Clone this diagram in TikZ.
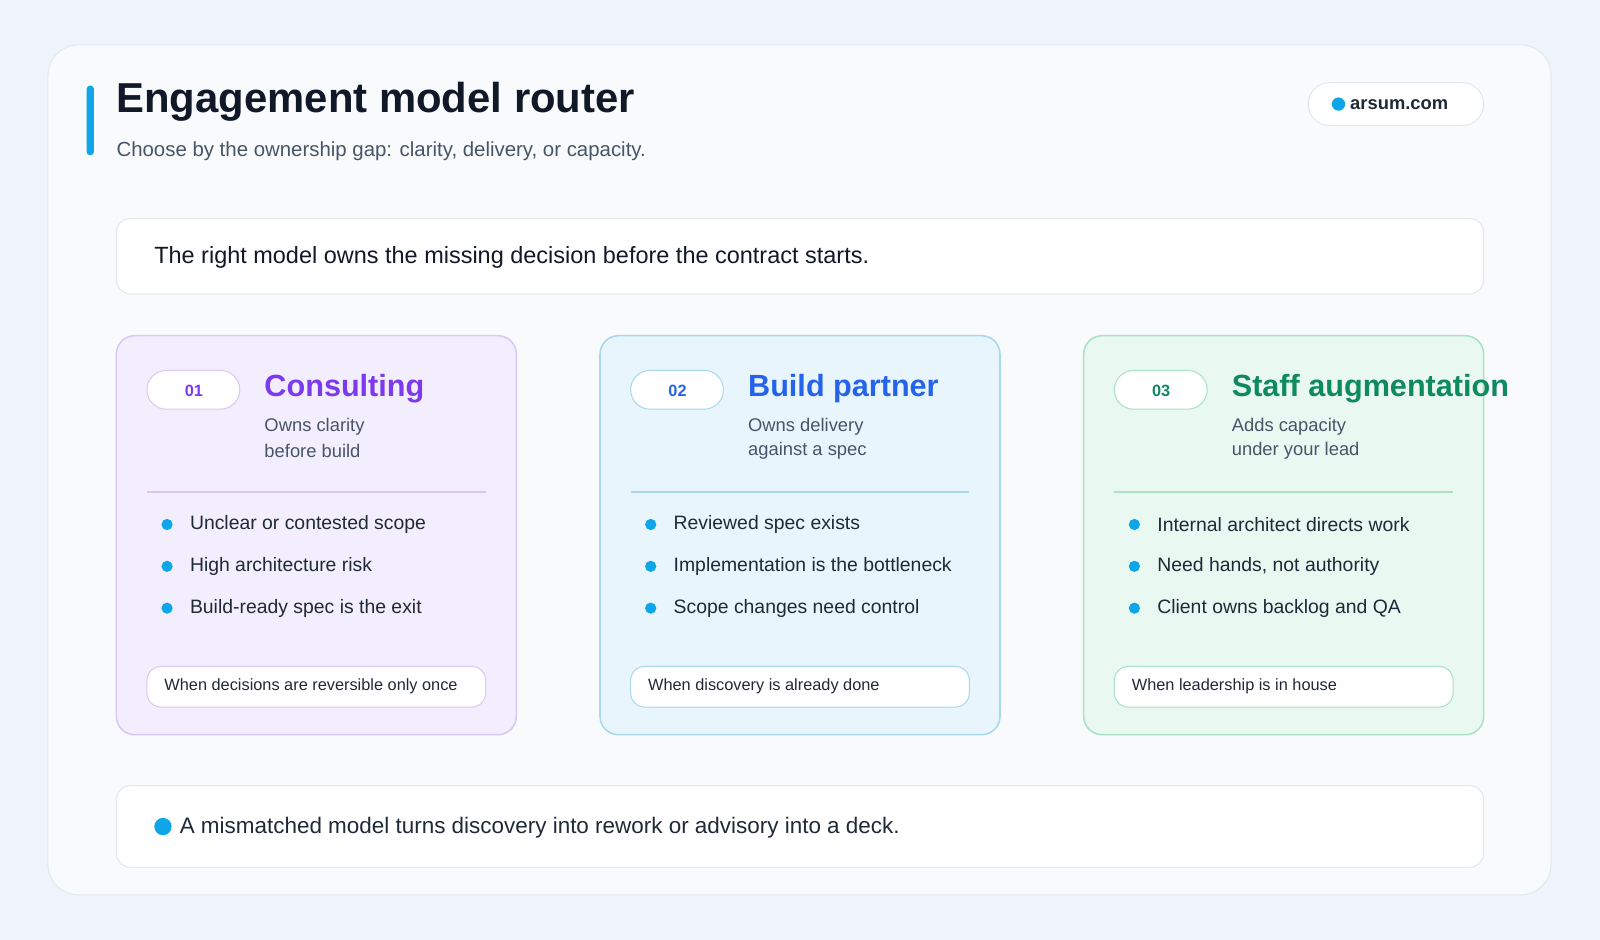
\documentclass[tikz,border=0pt]{standalone}
\usepackage{fontspec}
\setmainfont{Liberation Sans}
\definecolor{pageBg}{HTML}{EEF4FA}
\definecolor{panelBg}{HTML}{F8FAFC}
\definecolor{lineGray}{HTML}{E2E8F0}
\definecolor{accent}{HTML}{0EA5E9}
\definecolor{ink}{HTML}{111827}
\definecolor{softInk}{HTML}{475569}
\definecolor{bodyInk}{HTML}{1F2937}
\definecolor{violetFill}{HTML}{F3EEFD}
\definecolor{violetLine}{HTML}{D9C9F2}
\definecolor{violetText}{HTML}{7C3AED}
\definecolor{blueFill}{HTML}{E9F5FC}
\definecolor{blueLine}{HTML}{A9D8EA}
\definecolor{blueText}{HTML}{2563EB}
\definecolor{greenFill}{HTML}{E9F8F0}
\definecolor{greenLine}{HTML}{A9E2C4}
\definecolor{greenText}{HTML}{0F8A5F}

\begin{document}
\begin{tikzpicture}[x=1pt,y=-1pt,
    every node/.style={inner sep=0pt, anchor=west},
    box/.style={draw=lineGray, fill=white, line width=1pt, rounded corners=14pt},
    dot/.style={circle, fill=accent, minimum size=11pt},
    body/.style={font=\fontsize{19}{22}\selectfont, text=bodyInk},
]
% page and panel
\fill[pageBg] (0,0) rectangle (1568,921);
\draw[lineGray, fill=panelBg, line width=1pt, rounded corners=30pt] (47,44) rectangle (1520,877);

% heading
\fill[accent, rounded corners=3pt] (85,84) rectangle (92,152);
\node[font=\fontsize{41}{46}\selectfont\bfseries, text=ink] (title) at (114,100) {Engagement model router};
\node[font=\fontsize{20}{24}\selectfont, text=softInk] (subtitle) at (114,148) {Choose by the ownership gap: clarity, delivery, or capacity.};

% site pill
\draw[box, rounded corners=21pt] (1282,81) rectangle (1454,123);
\node[dot, minimum size=13pt] (siteDot) at (1305,102) {};
\node[font=\fontsize{18}{22}\selectfont\bfseries, text=bodyInk] (site) at (1323,103) {arsum.com};

% top banner
\draw[box] (114,214) rectangle (1454,288);
\node[font=\fontsize{23}{28}\selectfont, text=ink] (banner) at (151,252) {The right model owns the missing decision before the contract starts.};

% cards
\foreach \x/\n/\fil/\lin/\col/\name/\subA/\subB/\bA/\bB/\bC/\foot in {
  114/01/violetFill/violetLine/violetText/Consulting/Owns clarity/before build/Unclear or contested scope/High architecture risk/Build-ready spec is the exit/When decisions are reversible only once,
  588/02/blueFill/blueLine/blueText/Build partner/Owns delivery/against a spec/Reviewed spec exists/Implementation is the bottleneck/Scope changes need control/When discovery is already done,
  1062/03/greenFill/greenLine/greenText/Staff augmentation/Adds capacity/under your lead/Internal architect directs work/{Need hands, not authority}/Client owns backlog and QA/When leadership is in house} {
    \draw[\lin, fill=\fil, line width=1.5pt, rounded corners=18pt] (\x,329) rectangle ++(392,391);
    \draw[\lin, fill=white, line width=1pt, rounded corners=19pt] (\x+30,363) rectangle ++(91,38);
    \node[anchor=center, font=\fontsize{16}{19}\selectfont\bfseries, text=\col] (badge\n) at (\x+76,383) {\n};
    \node[font=\fontsize{30}{34}\selectfont\bfseries, text=\col] (name\n) at (\x+145,381) {\name};
    \node[font=\fontsize{18}{22}\selectfont, text=softInk] (subA\n) at (\x+145,418) {\subA};
    \node[font=\fontsize{18}{22}\selectfont, text=softInk] (subB\n) at (\x+145,442) {\subB};
    \draw[\lin, line width=1.5pt] (\x+30,482) -- ++(332,0);
    \node[dot] at (\x+44,514) {};
    \node[body] (bA\n) at (\x+72,514) {\bA};
    \node[dot] at (\x+44,555) {};
    \node[body] (bB\n) at (\x+72,555) {\bB};
    \node[dot] at (\x+44,596) {};
    \node[body] (bC\n) at (\x+72,596) {\bC};
    \draw[\lin, fill=white, line width=1pt, rounded corners=14pt] (\x+30,653) rectangle ++(332,40);
    \node[font=\fontsize{16}{19}\selectfont, text=bodyInk] (foot\n) at (\x+47,673) {\foot};
}

% bottom banner
\draw[box] (114,770) rectangle (1454,850);
\node[dot, minimum size=17pt] (noteDot) at (151,810) {};
\node[font=\fontsize{22}{26}\selectfont, text=bodyInk] (note) at (176,811) {A mismatched model turns discovery into rework or advisory into a deck.};
\end{tikzpicture}
\end{document}
